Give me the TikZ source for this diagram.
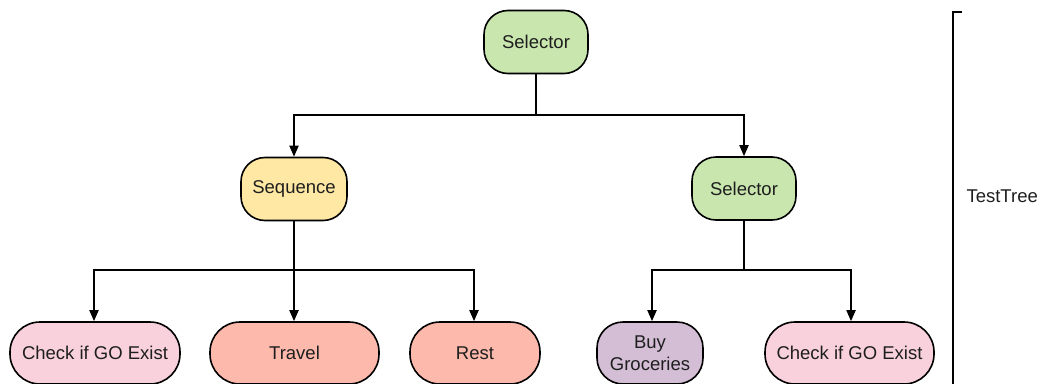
\documentclass[tikz,border=0pt]{standalone}
\usepackage{fontspec}
\setmainfont{Liberation Sans}
\usetikzlibrary{arrows.meta}
\definecolor{selfill}{HTML}{C8E6AE}
\definecolor{seqfill}{HTML}{FFE8A4}
\definecolor{chkfill}{HTML}{F8D1DC}
\definecolor{actfill}{HTML}{FDB9AB}
\definecolor{buyfill}{HTML}{D4BED6}
\definecolor{ink}{HTML}{1E1E1E}
\begin{document}
\begin{tikzpicture}[x=1pt,y=-1pt,
  every node/.style={font=\fontsize{18.5}{22}\selectfont, text=ink},
  box/.style={draw=black, line width=1.6pt, rounded corners=24pt,
    minimum width=104pt, minimum height=63pt, inner sep=0pt, align=center},
  leaf/.style={draw=black, line width=1.6pt, rounded corners=30pt,
    minimum height=62pt, inner sep=0pt, align=center},
  wire/.style={line width=1.8pt, draw=black},
  arr/.style={wire, -{Triangle[length=11pt,width=9pt]}}]
\useasboundingbox (0,0) rectangle (1040,383);

% composite nodes
\node[box, fill=selfill] (root) at (536,42) {Selector};
\node[box, fill=seqfill, minimum width=106pt] (seq) at (294,189) {Sequence};
\node[box, fill=selfill] (sel) at (744,188.5) {Selector};

% leaves
\node[leaf, fill=chkfill, minimum width=170pt] (chkA) at (95,353) {Check if GO Exist};
\node[leaf, fill=actfill, minimum width=169pt] (travel) at (294.5,353) {Travel};
\node[leaf, fill=actfill, minimum width=130pt] (rest) at (475,353) {Rest};
\node[leaf, fill=buyfill, minimum width=106pt, rounded corners=26pt] (buy) at (650,353) {Buy\\Groceries};
\node[leaf, fill=chkfill, minimum width=169pt] (chkB) at (849.5,353) {Check if GO Exist};

% bus junctions
\coordinate (j0) at (536,115);
\coordinate (j1) at (294,270);
\coordinate (j2) at (744,270);

% connectors
\draw[wire] (root.south) -- (j0);
\draw[arr] (j0) -| (seq.north);
\draw[arr] (j0) -| (sel.north);

\draw[wire] (seq.south) -- (j1);
\draw[arr] (j1) -| ([xshift=-1pt]chkA.north);
\draw[arr] (j1) -- (travel.north -| j1);
\draw[arr] (j1) -| ([xshift=-1pt]rest.north);

\draw[wire] (sel.south) -- (j2);
\draw[arr] (j2) -| ([xshift=2pt]buy.north);
\draw[arr] (j2) -| ([xshift=1.5pt]chkB.north);

% tree bracket
\coordinate (bt) at (962,12);
\coordinate (bc) at (953,12);
\coordinate (bb) at (953,385);
\draw[line width=1.6pt] (bt) -- (bc) -- (bb);
\node[anchor=west] (label) at (963,196) {TestTree};
\end{tikzpicture}
\end{document}
